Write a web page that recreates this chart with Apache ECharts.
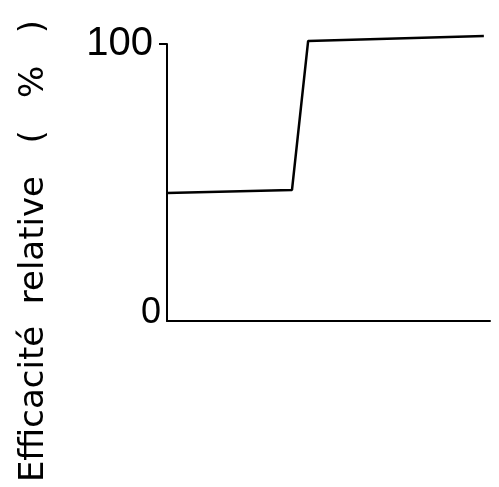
<!DOCTYPE html>
<html>
<head>
<meta charset="utf-8">
<script src="https://cdn.jsdelivr.net/npm/echarts@6/dist/echarts.min.js"></script>
<style>html,body{margin:0;padding:0;background:#fff}#c{width:499px;height:487px}</style>
</head>
<body>
<div id="c"></div>
<script>
// Data
const yTitle = 'Efficacité  relative   (   %   )';
const yTickLabels = [0, 100];
const curveX = [0, 38.7, 43.7, 98.1];
const curveY = [46.2, 47.3, 101.1, 102.9];

const chart = echarts.init(document.getElementById('c'));
chart.setOption({
  backgroundColor: '#ffffff',
  animation: false,
  grid: { left: 167, right: 9, top: 44, bottom: 166 },
  xAxis: {
    type: 'value', min: 0, max: 100,
    axisLine: { show: true, lineStyle: { color: '#000', width: 2 } },
    axisTick: { show: false }, axisLabel: { show: false }, splitLine: { show: false }
  },
  yAxis: {
    type: 'value', min: 0, max: 100,
    axisLine: { show: true, lineStyle: { color: '#000', width: 2 } },
    axisTick: { show: true, customValues: [100], length: 8, lineStyle: { color: '#000', width: 2 } },
    splitLine: { show: false },
    axisLabel: {
      customValues: yTickLabels,
      margin: 6,
      formatter: v => v === 100 ? '{a|' + v + '}' : '{b|' + v + '}',
      rich: {
        a: { fontFamily: '"Liberation Sans Narrow", "Liberation Sans", sans-serif', fontSize: 40, color: '#000', padding: [0, 8, 0, 0] },
        b: { fontFamily: '"Liberation Sans Narrow", "Liberation Sans", sans-serif', fontSize: 36, color: '#000', padding: [0, 0, 16, 0] }
      }
    }
  },
  graphic: [{
    type: 'text', x: 34, y: 251, rotation: Math.PI / 2,
    style: { text: yTitle, fontFamily: 'DejaVu Sans', fontSize: 34, fill: '#000', align: 'center', verticalAlign: 'middle' }
  }],
  series: [{
    type: 'line', clip: false, symbol: 'none',
    data: curveX.map((x, i) => [x, curveY[i]]),
    lineStyle: { color: '#000', width: 2.5 }
  }]
});
</script>
</body>
</html>
